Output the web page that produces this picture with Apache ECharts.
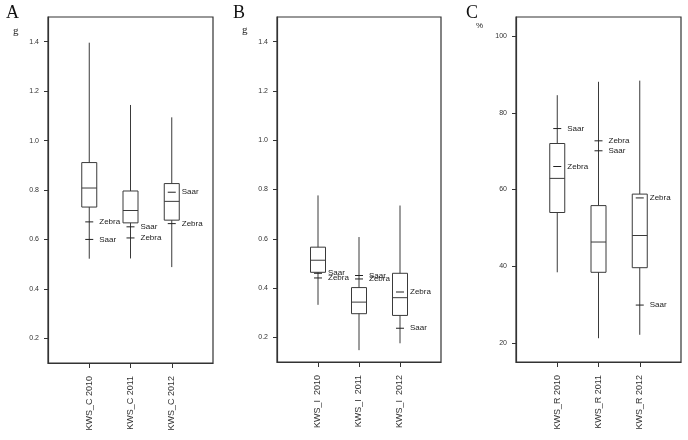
<!DOCTYPE html>
<html><head><meta charset="utf-8">
<script src="https://cdn.jsdelivr.net/npm/echarts@6/dist/echarts.min.js"></script>
<style>html,body{margin:0;padding:0;background:#fff}#c{width:688px;height:440px}</style>
</head><body><div id="c"></div>
<script>
// ---- data ----
const catsA = ['KWS_C 2010', 'KWS_C 2011', 'KWS_C 2012'];
const catsB = ['KWS_I  2010', 'KWS_I  2011', 'KWS_I  2012'];
const catsC = ['KWS_R 2010', 'KWS_R 2011', 'KWS_R 2012'];
// [min, q1, median, q3, max]
const boxA = [[0.522, 0.731, 0.808, 0.911, 1.396], [0.523, 0.667, 0.717, 0.796, 1.144], [0.488, 0.678, 0.754, 0.826, 1.094]];
const boxB = [[0.332, 0.464, 0.513, 0.566, 0.776], [0.148, 0.296, 0.343, 0.402, 0.607], [0.176, 0.289, 0.361, 0.460, 0.735]];
const boxC = [[38.4, 54.0, 62.9, 72.0, 84.6], [21.2, 38.4, 46.3, 55.8, 88.1], [22.1, 39.6, 48.0, 58.8, 88.4]];
const zebraA = [0.671, 0.606, 0.664];
const saarA = [0.600, 0.651, 0.791];
const zebraB = [0.441, 0.437, 0.384];
const saarB = [0.460, 0.451, 0.237];
const zebraC = [66.0, 72.7, 57.8];
const saarC = [75.9, 70.1, 29.85];
const ticksAB = [0.2, 0.4, 0.6, 0.8, 1.0, 1.2, 1.4];
const ticksC = [20, 40, 60, 80, 100];
const panelLetters = ['A', 'B', 'C'];
const units = ['g', 'g', '%'];

// ---- chart ----
const chart = echarts.init(document.getElementById('c'), null, {renderer: 'canvas'});
const grids = [
  {left: 48, top: 17, width: 165, height: 346},
  {left: 277, top: 17, width: 164, height: 345},
  {left: 516, top: 17, width: 165, height: 345}
];
const lineCol = '#3a3a3a';
function xAxis(i, cats) {
  return {
    type: 'category', gridIndex: i, boundaryGap: false,
    data: [''].concat(cats).concat(['']),
    axisLine: {show: true, lineStyle: {color: '#333', width: 1.2}},
    axisTick: {show: true, length: 5, interval: (idx) => idx >= 1 && idx <= cats.length, lineStyle: {color: '#333'}},
    axisLabel: {rotate: 90, margin: 13, interval: (idx) => idx >= 1 && idx <= cats.length,
      fontFamily: 'Liberation Sans', fontSize: 9, color: '#333'},
    splitLine: {show: false}
  };
}
function yAxis(i, min, max, ticks, fmt) {
  return {
    type: 'value', gridIndex: i, min: min, max: max,
    axisLine: {show: true, lineStyle: {color: '#333', width: 1.2}},
    axisTick: {show: true, length: 4, customValues: ticks, lineStyle: {color: '#333'}},
    axisLabel: {customValues: ticks, formatter: fmt, margin: 9,
      fontFamily: 'Liberation Sans', fontSize: 7, color: '#333'},
    splitLine: {show: false}
  };
}
function boxRender(params, api) {
  const xi = api.value(0);
  const x = api.coord([xi, 0])[0];
  const yMin = api.coord([xi, api.value(1)])[1];
  const yQ1 = api.coord([xi, api.value(2)])[1];
  const yMed = api.coord([xi, api.value(3)])[1];
  const yQ3 = api.coord([xi, api.value(4)])[1];
  const yMax = api.coord([xi, api.value(5)])[1];
  const hw = 7.5;
  return {type: 'group', children: [
    {type: 'line', shape: {x1: x, y1: yMax, x2: x, y2: yMin}, style: {stroke: lineCol, lineWidth: 1}},
    {type: 'rect', shape: {x: x - hw, y: yQ3, width: 2 * hw, height: yQ1 - yQ3}, style: {fill: '#fff', stroke: lineCol, lineWidth: 1}},
    {type: 'line', shape: {x1: x - hw, y1: yMed, x2: x + hw, y2: yMed}, style: {stroke: lineCol, lineWidth: 1}}
  ]};
}
function markRender(params, api) {
  const xi = api.value(0);
  const p = api.coord([xi, api.value(1)]);
  const name = params.seriesName;
  return {type: 'group', children: [
    {type: 'line', shape: {x1: p[0] - 4, y1: p[1], x2: p[0] + 4, y2: p[1]}, style: {stroke: '#222', lineWidth: 1}},
    {type: 'text', style: {x: p[0] + 10, y: p[1], text: name, fill: '#222',
      font: '8px "Liberation Sans"', textAlign: 'left', textVerticalAlign: 'middle'}}
  ]};
}
const panels = [
  {box: boxA, zebra: zebraA, saar: saarA},
  {box: boxB, zebra: zebraB, saar: saarB},
  {box: boxC, zebra: zebraC, saar: saarC}
];
const series = [];
panels.forEach((p, i) => {
  series.push({type: 'custom', name: 'box' + i, xAxisIndex: i, yAxisIndex: i,
    renderItem: boxRender, data: p.box.map((b, k) => [k + 1].concat(b)), silent: true});
  series.push({type: 'custom', name: 'Zebra', xAxisIndex: i, yAxisIndex: i,
    renderItem: markRender, data: p.zebra.map((v, k) => [k + 1, v]), silent: true, z: 3});
  series.push({type: 'custom', name: 'Saar', xAxisIndex: i, yAxisIndex: i,
    renderItem: markRender, data: p.saar.map((v, k) => [k + 1, v]), silent: true, z: 3});
});
const f1 = (v) => v.toFixed(1);
const f0 = (v) => String(Math.round(v));
const letterPos = [[6, 4], [233, 4], [466, 4]];
const unitPos = [[13, 26, 11, 'Liberation Serif'], [242, 25, 11, 'Liberation Serif'], [476, 22, 8, 'Liberation Sans']];
const graphic = [];
panelLetters.forEach((t, i) => {
  graphic.push({type: 'text', left: letterPos[i][0], top: letterPos[i][1],
    style: {text: t, font: '18px "Liberation Serif"', fill: '#111'}});
  graphic.push({type: 'text', left: unitPos[i][0], top: unitPos[i][1],
    style: {text: units[i], font: unitPos[i][2] + 'px "' + unitPos[i][3] + '"', fill: '#222'}});
});
chart.setOption({
  animation: false,
  grid: grids.map(g => Object.assign({show: true, borderColor: '#333', borderWidth: 1.2, backgroundColor: 'transparent'}, g)),
  xAxis: [xAxis(0, catsA), xAxis(1, catsB), xAxis(2, catsC)],
  yAxis: [yAxis(0, 0.1, 1.5, ticksAB, f1), yAxis(1, 0.1, 1.5, ticksAB, f1), yAxis(2, 15, 105, ticksC, f0)],
  series: series,
  graphic: graphic
});
</script></body></html>
